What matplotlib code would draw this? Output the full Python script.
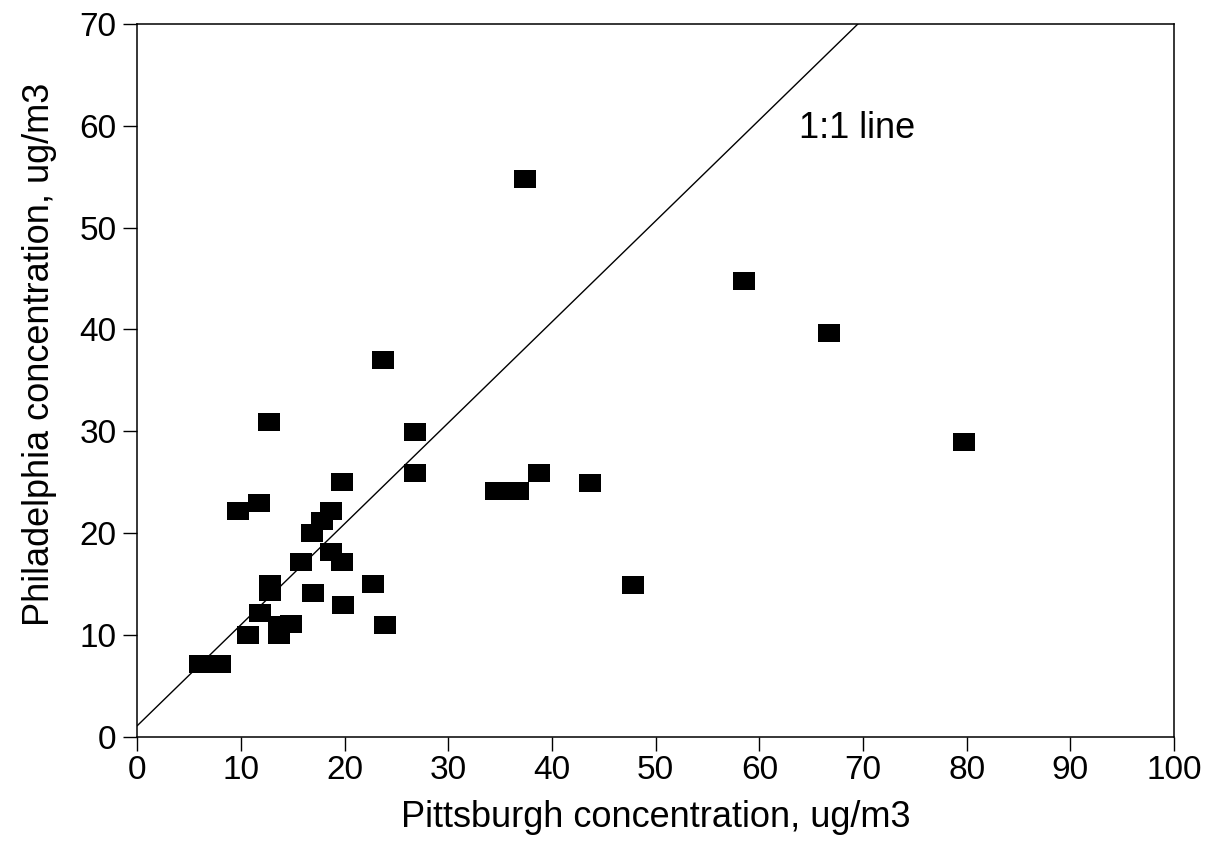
import numpy as np
import matplotlib.pyplot as plt

plt.rcParams['font.family'] = ['Liberation Sans', 'DejaVu Sans']

# Pittsburgh vs Philadelphia concentrations (ug/m3)
pitt = [6.0, 8.0, 10.7, 11.8, 12.8, 12.8, 13.7, 13.7, 14.8, 15.8,
        16.9, 16.8, 17.8, 18.7, 18.7, 19.7, 19.8, 19.7, 9.7, 11.7,
        12.7, 22.7, 23.9, 23.7, 26.8, 26.8, 34.6, 36.7, 38.7, 43.7,
        47.8, 37.4, 58.5, 66.7, 79.7]
phil = [7.1, 7.1, 10.0, 12.2, 15.0, 14.2, 11.0, 10.0, 11.1, 17.2,
        14.1, 20.0, 21.2, 22.2, 18.1, 25.0, 12.9, 17.2, 22.2, 23.0,
        30.9, 15.0, 11.0, 37.0, 29.9, 25.9, 24.1, 24.1, 25.9, 24.9,
        14.9, 54.8, 44.8, 39.7, 28.9]

# the 1:1 reference line as drawn
line_x = [0, 69.5]
line_y = [1.1, 70]

xticks = list(range(0, 101, 10))
yticks = list(range(0, 71, 10))

fig = plt.figure(figsize=(12.16, 8.42), dpi=100)
ax = fig.add_axes([0.113, 0.125, 0.8525, 0.8465])

# wide-ish filled rectangle marker like the scanned original
rect = [(-1, -0.8), (1, -0.8), (1, 0.8), (-1, 0.8), (-1, -0.8)]

ax.plot(line_x, line_y, color='black', lw=1.0)
ax.plot(pitt, phil, linestyle='none', marker=rect, markersize=15.6,
        color='black', markeredgewidth=0)

ax.text(63.8, 58.8, '1:1 line', fontsize=26, color='black')

ax.set_xlim(0, 100)
ax.set_ylim(0, 70)
ax.set_xticks(xticks)
ax.set_yticks(yticks)
ax.tick_params(direction='out', length=10, width=1.0, labelsize=24,
               colors='black')
ax.tick_params(axis='y', pad=5)
ax.tick_params(axis='x', pad=3)
for s in ax.spines.values():
    s.set_linewidth(1.1)

ax.set_xlabel('Pittsburgh concentration, ug/m3', fontsize=26, labelpad=10)
ax.set_ylabel('Philadelphia concentration, ug/m3', fontsize=26)
# label sits a bit above the axis centre in the original
ax.yaxis.set_label_coords(-0.078, 0.536)

fig.savefig('out.png', dpi=100)
